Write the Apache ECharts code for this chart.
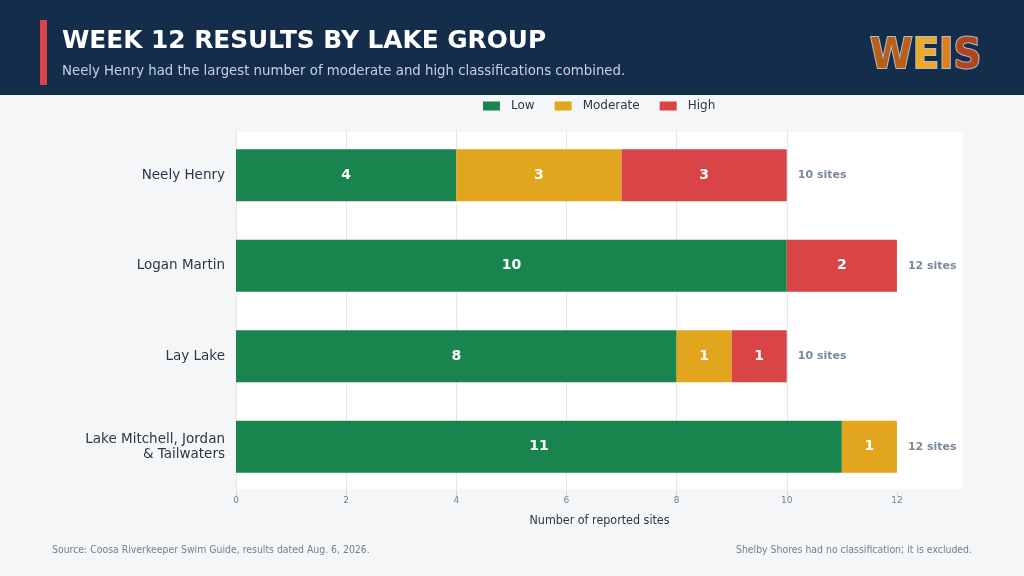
<!DOCTYPE html>
<html>
<head>
<meta charset="utf-8">
<script src="https://cdn.jsdelivr.net/npm/echarts@6/dist/echarts.min.js"></script>
<style>
  html, body { margin: 0; padding: 0; background: #f5f6f8; }
  #chart { width: 1024px; height: 576px; }
</style>
</head>
<body>
<div id="chart"></div>
<script>
// lake groups, top to bottom
const lakes = ['Neely Henry', 'Logan Martin', 'Lay Lake', 'Lake Mitchell, Jordan\n& Tailwaters']
const lowVals = [4, 10, 8, 11]
const moderateVals = [3, 0, 1, 1]
const highVals = [3, 2, 1, 0]
const siteTotals = [10, 12, 10, 12]
const xTicks = [0, 2, 4, 6, 8, 10, 12]

const colors = { low: '#1a844f', moderate: '#e1a51e', high: '#d94547' }
const font = 'DejaVu Sans, Noto Sans, sans-serif'
const condensed = '"DejaVu Sans Condensed", "DejaVu Sans", sans-serif'

const chart = echarts.init(document.getElementById('chart'), null, { renderer: 'canvas' })

const segLabel = {
  show: true,
  position: 'inside',
  color: '#ffffff',
  fontWeight: 'bold',
  fontSize: 14,
  fontFamily: font,
  formatter: p => (p.value > 0 ? p.value : '')
}

const logoLetter = (fill) => ({ fill: fill, stroke: '#b5bcc5', lineWidth: 2, font: 'bold 43px ' + condensed })

const option = {
  backgroundColor: '#f5f6f8',
  animation: false,
  graphic: [
    { type: 'rect', left: 0, top: 0, z: -10, shape: { width: 1024, height: 95 }, style: { fill: '#132d4b' } },
    { type: 'rect', left: 40, top: 20, z: -10, shape: { width: 7, height: 65 }, style: { fill: '#d94547' } },
    // plot background
    { type: 'rect', left: 236, top: 132, z: -10, shape: { width: 727, height: 357 }, style: { fill: '#ffffff' } },
    {
      type: 'text', left: 62, top: 29,
      style: { text: 'WEEK 12 RESULTS BY LAKE GROUP', fill: '#ffffff', font: 'bold 24.8px ' + font }
    },
    {
      type: 'text', left: 62, top: 65,
      style: { text: 'Neely Henry had the largest number of moderate and high classifications combined.', fill: '#c8d2de', font: '13.3px ' + font }
    },
    {
      type: 'text', left: 869, top: 34,
      style: {
        text: '{w|W}{e|E}{i|I}{s|S}',
        rich: {
          w: logoLetter('#b8601a'),
          e: logoLetter('#eeab28'),
          i: logoLetter('#de7f1c'),
          s: logoLetter('#b0441c')
        }
      }
    },
    {
      type: 'text', left: 52, top: 545,
      style: { text: 'Source: Coosa Riverkeeper Swim Guide, results dated Aug. 6, 2026.', fill: '#718096', font: '10.4px ' + condensed }
    },
    {
      type: 'text', right: 52, top: 545,
      style: { text: 'Shelby Shores had no classification; it is excluded.', fill: '#718096', font: '10.4px ' + condensed }
    }
  ],
  legend: {
    top: 100,
    left: 483,
    padding: 0,
    data: ['Low', 'Moderate', 'High'],
    itemWidth: 17,
    itemHeight: 9,
    itemGap: 20,
    icon: 'rect',
    textStyle: { color: '#2d3748', fontSize: 12, fontFamily: font, padding: [0, 0, 0, 6] }
  },
  grid: {
    left: 236, right: 61, top: 130, bottom: 84,
    containLabel: false
  },
  xAxis: {
    type: 'value',
    min: 0,
    max: 13.2,
    interval: 2,
    name: 'Number of reported sites',
    nameLocation: 'middle',
    nameGap: 23,
    nameTextStyle: { color: '#2d3748', fontSize: 12.4, fontFamily: condensed },
    axisLine: { show: false },
    axisTick: { show: true, length: 4, customValues: xTicks, lineStyle: { color: '#cfd6df' } },
    axisLabel: {
      color: '#718096', fontSize: 9, fontFamily: font, margin: 4,
      customValues: xTicks
    },
    splitLine: { show: true, showMaxLine: false, lineStyle: { color: '#e2e8f0', width: 1 } }
  },
  yAxis: {
    type: 'category',
    data: lakes,
    inverse: true,
    axisLine: { show: false },
    axisTick: { show: false },
    axisLabel: { color: '#2d3748', fontSize: 13.5, fontFamily: font, margin: 11, lineHeight: 15, align: 'right' }
  },
  series: [
    {
      name: 'Low', type: 'bar', stack: 'sites', data: lowVals, barWidth: 52,
      itemStyle: { color: colors.low }, label: segLabel
    },
    {
      name: 'Moderate', type: 'bar', stack: 'sites', data: moderateVals, barWidth: 52,
      itemStyle: { color: colors.moderate }, label: segLabel
    },
    {
      name: 'High', type: 'bar', stack: 'sites', data: highVals, barWidth: 52,
      itemStyle: { color: colors.high }, label: segLabel
    },
    {
      // total label to the right of each stack
      name: 'Total', type: 'scatter',
      data: siteTotals.map((t, i) => [t, i]),
      symbolSize: 0,
      itemStyle: { color: 'rgba(0,0,0,0)' },
      silent: true,
      label: {
        show: true, position: 'right', distance: 11,
        color: '#5a6b80', fontWeight: 'bold', fontSize: 11, fontFamily: font,
        formatter: p => p.value[0] + ' sites'
      }
    }
  ]
}

chart.setOption(option)
</script>
</body>
</html>
